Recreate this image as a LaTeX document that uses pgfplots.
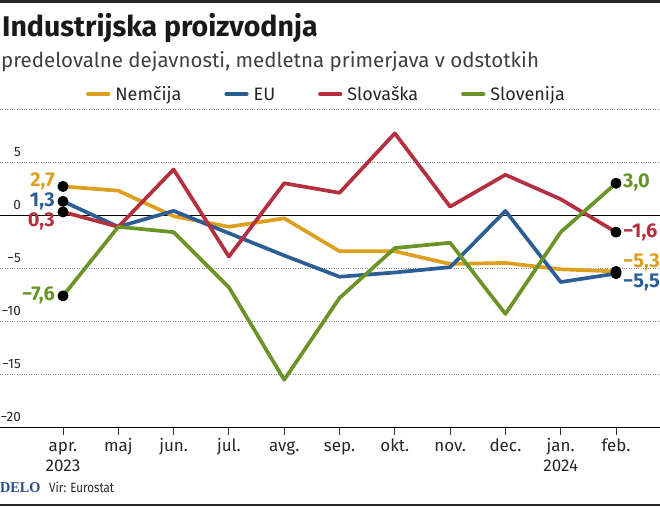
\documentclass[border=0pt]{standalone}
\usepackage{fontspec}
\setmainfont{Fira Sans}
\newfontfamily\condfont{Fira Sans}[FakeStretch=0.86]
\newfontfamily\delofont{Liberation Serif}[FakeStretch=0.95]
\usepackage{pgfplots}
\pgfplotsset{compat=1.18}
\definecolor{cNem}{RGB}{222,158,30}
\definecolor{cEU}{RGB}{44,94,150}
\definecolor{cSk}{RGB}{180,48,62}
\definecolor{cSi}{RGB}{106,148,40}
\definecolor{cDelo}{RGB}{40,78,135}
\begin{document}
\begin{tikzpicture}[x=1pt,y=1pt]
\fill[black!85] (0,502.7) rectangle (660,506);
\fill[black!85] (0,0) rectangle (660,2.5);
\node[anchor=base west, inner sep=0pt, font=\fontsize{28.5}{32}\selectfont\bfseries, text=black!90] at (2,469.3) {Industrijska proizvodnja};
\node[anchor=base west, inner sep=0pt, font=\fontsize{20.5}{24}\selectfont, text=black!75] at (1,438) {predelovalne dejavnosti, medletna primerjava v odstotkih};
\node[anchor=base west, inner sep=0pt, font=\fontsize{15}{18}\selectfont\delofont\bfseries, text=cDelo] at (0,14) {DELO};
\node[anchor=base west, inner sep=0pt, font=\fontsize{13.5}{16}\selectfont\condfont, text=black!85] at (49,14) {Vir: Eurostat};
\begin{axis}[
  at={(0,73.8)}, anchor=south west, scale only axis,
  width=660pt, height=318.7pt,
  xmin=-1.139, xmax=10.795, ymin=-20, ymax=10,
  clip=false,
  separate axis lines,
  axis x line*=bottom, axis y line*=left,
  y axis line style={draw=none},
  x axis line style={black, line width=1.3pt},
  xtick={0,...,10},
  xticklabels={\strut apr.\\2023, \strut maj, \strut jun., \strut jul., \strut avg., \strut sep., \strut okt., \strut nov., \strut dec., \strut jan.\\2024, \strut feb.},
  xticklabel style={align=center, font=\fontsize{17}{20.3}\selectfont, text=black!85, anchor=north, inner sep=0pt, yshift=-2pt},
  x tick style={black!80, line width=0.9pt},
  tick align=outside, major tick length=7pt,
  ytick={-20,-15,-10,-5,0,5,10},
  yticklabels={−20,−15,−10,−5,0,5,},
  y tick style={draw=none},
  yticklabel style={anchor=base east, inner sep=0pt, xshift=28pt, yshift=6pt, font=\fontsize{13.5}{16}\selectfont, text=black!85},
  ymajorgrids, grid style={black!45, dotted, line width=0.7pt},
  legend columns=4,
  legend style={at={(86/660,1.047)}, anchor=west, draw=none, fill=none, inner sep=0pt,
    font=\fontsize{18}{22}\selectfont, text=black!85,
    nodes={inner sep=0pt, text depth=0pt},
    /tikz/every odd column/.append style={column sep=5pt},
    /tikz/every even column/.append style={column sep=43pt}},
  legend image code/.code={\draw[#1, line width=3.2pt, line cap=round] (0pt,0pt) -- (21pt,0pt);},
  every axis plot/.append style={line width=3.7pt, line join=round, line cap=round},
]
\addplot[draw=black, line width=0.9pt, forget plot] coordinates {(-1.139,0) (10.795,0)};
\addplot[cNem] coordinates {(0,2.7) (1,2.3) (2,-0.1) (3,-1.1) (4,-0.3) (5,-3.4) (6,-3.4) (7,-4.6) (8,-4.5) (9,-5.1) (10,-5.3)};
\addlegendentry{Nemčija}
\addplot[cEU] coordinates {(0,1.3) (1,-1.1) (2,0.4) (3,-1.7) (4,-3.8) (5,-5.8) (6,-5.4) (7,-4.9) (8,0.4) (9,-6.3) (10,-5.5)};
\addlegendentry{EU}
\addplot[cSk] coordinates {(0,0.3) (1,-1.1) (2,4.3) (3,-3.9) (4,3.0) (5,2.1) (6,7.7) (7,0.8) (8,3.8) (9,1.5) (10,-1.6)};
\addlegendentry{Slovaška}
\addplot[cSi] coordinates {(0,-7.6) (1,-1.1) (2,-1.6) (3,-6.8) (4,-15.5) (5,-7.8) (6,-3.1) (7,-2.6) (8,-9.3) (9,-1.6) (10,3.0)};
\addlegendentry{Slovenija}
\addplot[only marks, mark=*, mark size=3.6pt, black, forget plot] coordinates {(0,2.7) (0,1.3) (0,0.3) (0,-7.6) (10,3.0) (10,-1.6) (10,-5.3) (10,-5.5)};
\begin{scope}[every node/.style={font=\fontsize{20}{22}\selectfont\bfseries, inner sep=0pt}]
\node[anchor=east, text=cNem, xshift=-8pt, yshift=5pt] at (axis cs:0,2.7) {2,7};
\node[anchor=east, text=cEU, xshift=-8pt, yshift=0pt] at (axis cs:0,1.3) {1,3};
\node[anchor=east, text=cSk, xshift=-8pt, yshift=-9pt] at (axis cs:0,0.3) {0,3};
\node[anchor=east, text=cSi, xshift=-8pt, yshift=1pt] at (axis cs:0,-7.6) {−7,6};
\node[anchor=west, text=cSi, xshift=7pt, yshift=1pt] at (axis cs:10,3.0) {3,0};
\node[anchor=west, text=cSk, xshift=7pt, yshift=0pt] at (axis cs:10,-1.6) {−1,6};
\node[anchor=west, text=cNem, xshift=7pt, yshift=9pt] at (axis cs:10,-5.3) {−5,3};
\node[anchor=west, text=cEU, xshift=7pt, yshift=-9pt] at (axis cs:10,-5.5) {−5,5};
\end{scope}
\end{axis}
\pgfresetboundingbox
\useasboundingbox (0,0) rectangle (660,506);
\end{tikzpicture}
\end{document}
